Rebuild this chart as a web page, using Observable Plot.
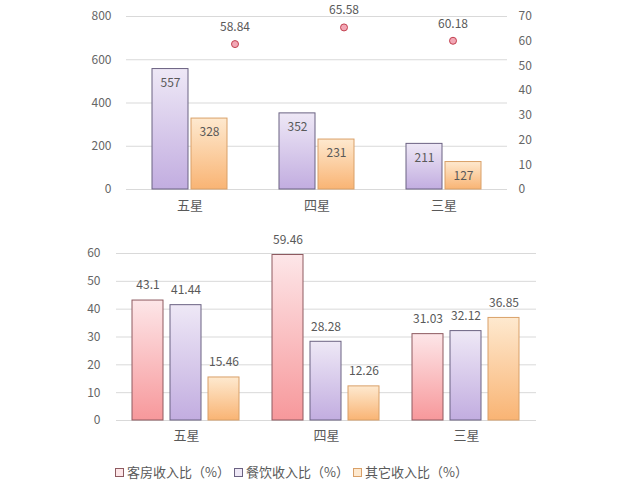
<!DOCTYPE html>
<html>
<head>
<meta charset="utf-8">
<script src="https://cdn.jsdelivr.net/npm/d3@7"></script>
<script src="https://cdn.jsdelivr.net/npm/@observablehq/plot@0.6"></script>
<style>
  body { margin: 0; background: #fff; font-family: "Noto Sans CJK SC", "Noto Sans", sans-serif; }
  #wrap { position: relative; width: 632px; }
  #top { position: relative; width: 632px; height: 222px; }
  #top > svg { position: absolute; left: 0; top: 0; }
  #legend { display: flex; gap: 0; margin-left: 115px; margin-top: 14px; font-size: 13px; color: #595959; line-height: 16px; }
  .item { display: flex; align-items: center; margin-right: 4px; }
  .sw { width: 7px; height: 7px; border: 1px solid; margin-right: 3px; }
</style>
</head>
<body>
<div id="wrap">
  <div id="top"></div>
  <div id="bottom"></div>
  <div id="legend"></div>
</div>
<script>
const categories = ["五星", "四星", "三星"];

// top panel
const topSeries = ["餐饮", "其它"];
const topDining = [557, 352, 211];
const topOther = [328, 231, 127];
const topRatio = [58.84, 65.58, 60.18];
const topLeftTicks = [0, 200, 400, 600, 800];
const topRightTicks = [0, 10, 20, 30, 40, 50, 60, 70];

// bottom panel
const bottomSeries = ["客房收入比（%）", "餐饮收入比（%）", "其它收入比（%）"];
const roomPct = [43.1, 59.46, 31.03];
const diningPct = [41.44, 28.28, 32.12];
const otherPct = [15.46, 12.26, 36.85];
const bottomTicks = [0, 10, 20, 30, 40, 50, 60];

const styles = {
  red:    {top: "#fde6e8", bottom: "#f7989b", stroke: "#8e5a60"},
  purple: {top: "#eee8f6", bottom: "#c2ade0", stroke: "#6b6282"},
  orange: {top: "#fee9cf", bottom: "#f9b474", stroke: "#d9a068"}
};

function defs(prefix) {
  return () => {
    const ns = "http://www.w3.org/2000/svg";
    const d = document.createElementNS(ns, "defs");
    for (const [k, s] of Object.entries(styles)) {
      const g = document.createElementNS(ns, "linearGradient");
      g.setAttribute("id", prefix + k);
      g.setAttribute("x1", "0"); g.setAttribute("y1", "0");
      g.setAttribute("x2", "0"); g.setAttribute("y2", "1");
      const s1 = document.createElementNS(ns, "stop");
      s1.setAttribute("offset", "0"); s1.setAttribute("stop-color", s.top);
      const s2 = document.createElementNS(ns, "stop");
      s2.setAttribute("offset", "1"); s2.setAttribute("stop-color", s.bottom);
      g.appendChild(s1); g.appendChild(s2); d.appendChild(g);
    }
    return d;
  };
}

const textColor = "#666";
const catColor = "#595959";
const font = '"Noto Sans CJK SC", "Noto Sans", sans-serif';

// ---- top bars
const topData = categories.flatMap((c, i) => [
  {cat: c, series: topSeries[0], value: topDining[i]},
  {cat: c, series: topSeries[1], value: topOther[i]}
]);

const topPlot = Plot.plot({
  width: 632, height: 222,
  marginLeft: 125, marginRight: 125, marginTop: 16, marginBottom: 33,
  style: {fontFamily: font, fontSize: "12px", color: textColor, background: "transparent"},
  fx: {domain: categories, padding: 0, label: null, axis: null},
  x: {domain: topSeries, paddingInner: 0.075, paddingOuter: 0.63, axis: null},
  y: {domain: [0, 800], label: null, axis: null},
  marks: [
    defs("t_"),
    Plot.ruleY(topLeftTicks, {stroke: "#d9d9d9", strokeWidth: 1}),
    Plot.axisY({ticks: topLeftTicks, tickSize: 0, tickPadding: 15, label: null, fill: textColor, fontSize: 12}),
    Plot.axisFx({anchor: "bottom", tickSize: 0, tickPadding: 11, label: null, fill: catColor, fontSize: 13}),
    Plot.barY(topData.filter(d => d.series === topSeries[0]), {fx: "cat", x: "series", y: "value", fill: "url(#t_purple)", stroke: styles.purple.stroke, strokeWidth: 1}),
    Plot.barY(topData.filter(d => d.series === topSeries[1]), {fx: "cat", x: "series", y: "value", fill: "url(#t_orange)", stroke: styles.orange.stroke, strokeWidth: 1}),
    Plot.text(topData, {fx: "cat", x: "series", y: "value", text: d => String(d.value), dy: 14, fill: "#595959", fontSize: 12})
  ]
});

// ---- top points (secondary axis)
const ratioData = categories.map((c, i) => ({cat: c, value: topRatio[i]}));
const pointPlot = Plot.plot({
  width: 632, height: 222,
  marginLeft: 180, marginRight: 125, marginTop: 16, marginBottom: 33,
  style: {fontFamily: font, fontSize: "12px", color: textColor, background: "transparent"},
  x: {type: "band", domain: categories, padding: 0, axis: null},
  y: {domain: [0, 70], label: null, axis: null},
  marks: [
    Plot.axisY({anchor: "right", ticks: topRightTicks, tickSize: 0, tickPadding: 11, label: null, fill: textColor, fontSize: 12}),
    Plot.dot(ratioData, {x: "cat", y: "value", r: 3.5, fill: "#f2a7b5", stroke: "#c2404f", strokeWidth: 1}),
    Plot.text(ratioData, {x: "cat", y: "value", text: d => d.value.toFixed(2), dy: -17, fill: "#595959", fontSize: 12})
  ]
});

document.getElementById("top").append(topPlot, pointPlot);

// ---- bottom bars
const bottomData = categories.flatMap((c, i) => [
  {cat: c, series: bottomSeries[0], value: roomPct[i]},
  {cat: c, series: bottomSeries[1], value: diningPct[i]},
  {cat: c, series: bottomSeries[2], value: otherPct[i]}
]);
const keys = ["red", "purple", "orange"];

const bottomPlot = Plot.plot({
  width: 632, height: 228,
  marginLeft: 116, marginRight: 96, marginTop: 31, marginBottom: 30,
  style: {fontFamily: font, fontSize: "12px", color: textColor, background: "transparent"},
  fx: {domain: categories, padding: 0, label: null, axis: null},
  x: {domain: bottomSeries, paddingInner: 0.184, paddingOuter: 0.434, axis: null},
  y: {domain: [0, 60], label: null, axis: null},
  marks: [
    defs("b_"),
    Plot.ruleY(bottomTicks, {stroke: "#d9d9d9", strokeWidth: 1}),
    Plot.axisY({ticks: bottomTicks, tickSize: 0, tickPadding: 16, label: null, fill: textColor, fontSize: 12}),
    Plot.axisFx({anchor: "bottom", tickSize: 0, tickPadding: 10, label: null, fill: catColor, fontSize: 13}),
    ...bottomSeries.map((s, j) =>
      Plot.barY(bottomData.filter(d => d.series === s), {fx: "cat", x: "series", y: "value", fill: `url(#b_${keys[j]})`, stroke: styles[keys[j]].stroke, strokeWidth: 1})
    ),
    Plot.text(bottomData, {fx: "cat", x: "series", y: "value", text: d => String(d.value), dy: -15, fill: "#595959", fontSize: 12})
  ]
});
document.getElementById("bottom").append(bottomPlot);

// ---- legend
const legend = document.getElementById("legend");
const legendLabels = ["客房收入比（%）", "餐饮收入比（%）", "其它收入比（%）"];
legendLabels.forEach((lab, j) => {
  const s = styles[keys[j]];
  const it = document.createElement("div");
  it.className = "item";
  const sw = document.createElement("div");
  sw.className = "sw";
  sw.style.background = s.top;
  sw.style.borderColor = s.stroke;
  const t = document.createElement("span");
  t.textContent = lab;
  it.append(sw, t);
  legend.append(it);
});
</script>
</body>
</html>
